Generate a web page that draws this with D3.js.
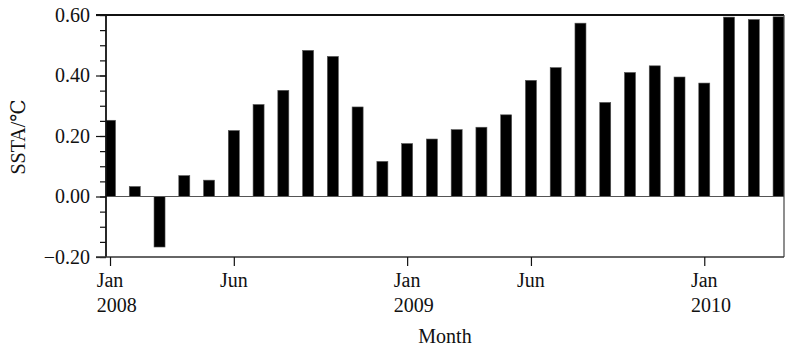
<!DOCTYPE html>
<html>
<head>
<meta charset="utf-8">
<script src="https://cdn.jsdelivr.net/npm/d3@7"></script>
<style>
  body { margin: 0; background: #fff; }
  svg { display: block; font-family: "Liberation Serif", "DejaVu Serif", serif; }
</style>
</head>
<body>
<svg id="chart"></svg>
<script>
// monthly SSTA values, Jan 2008 - Apr 2010
const months = d3.range(28);
const ssta = [
  0.252, 0.033, -0.167, 0.069, 0.054, 0.218, 0.304, 0.351, 0.483, 0.463, 0.296, 0.116,
  0.175, 0.190, 0.221, 0.229, 0.270, 0.384, 0.426, 0.573, 0.311, 0.410, 0.432, 0.395,
  0.375, 0.593, 0.585, 0.594
];
const xTickIndex = [0, 5, 12, 17, 24];
const xTickMonth = ["Jan", "Jun", "Jan", "Jun", "Jan"];
const xTickYear = ["2008", "", "2009", "", "2010"];
const yTicks = [-0.2, 0, 0.2, 0.4, 0.6];

const svgWidth = 798;
const svgHeight = 351;
const margin = { top: 15, right: 14, bottom: 94, left: 106 };
const width = svgWidth - margin.left - margin.right;
const height = svgHeight - margin.top - margin.bottom;

const svg = d3.select("#chart")
  .attr("width", svgWidth)
  .attr("height", svgHeight);

const g = svg.append("g")
  .attr("transform", "translate(" + margin.left + "," + margin.top + ")");

const x = d3.scaleLinear()
  .domain([-0.162, 27.22])
  .range([0, width]);

const y = d3.scaleLinear()
  .domain([-0.2, 0.6])
  .range([height, 0]);

const barWidth = 11;

g.append("clipPath")
  .attr("id", "plot-clip")
  .append("rect")
  .attr("width", width)
  .attr("height", height);

// bars
g.append("g")
  .attr("clip-path", "url(#plot-clip)")
  .selectAll("rect")
  .data(months)
  .enter()
  .append("rect")
  .attr("x", (i) => x(i) - barWidth / 2)
  .attr("width", barWidth)
  .attr("y", (i) => y(Math.max(0, ssta[i])))
  .attr("height", (i) => Math.abs(y(ssta[i]) - y(0)))
  .attr("fill", "#000")
  .attr("stroke", "#555")
  .attr("stroke-width", 0.6);

// zero line
g.append("line")
  .attr("x1", 0)
  .attr("x2", width)
  .attr("y1", y(0))
  .attr("y2", y(0))
  .attr("stroke", "#555")
  .attr("stroke-width", 1.2);

// frame
g.append("line")
  .attr("x1", -10).attr("x2", width)
  .attr("y1", 0).attr("y2", 0)
  .attr("stroke", "#111").attr("stroke-width", 2);
g.append("line")
  .attr("x1", width).attr("x2", width)
  .attr("y1", 0).attr("y2", height)
  .attr("stroke", "#444").attr("stroke-width", 1.2);

// y axis: majors every 0.2, minors every 0.05
const yMinor = d3.axisLeft(y)
  .tickValues(d3.range(-0.2, 0.6001, 0.05))
  .tickSize(6)
  .tickFormat("");
g.append("g").call(yMinor)
  .call((a) => a.select(".domain").remove())
  .selectAll("line").attr("stroke", "#111").attr("stroke-width", 1.2);

const yAxis = d3.axisLeft(y)
  .tickValues(yTicks)
  .tickSize(10)
  .tickPadding(6)
  .tickFormat((d) => (d < 0 ? "\u2212" : "") + Math.abs(d).toFixed(2));
const ya = g.append("g").call(yAxis);
ya.select(".domain").attr("stroke", "#111").attr("stroke-width", 1.8).attr("d", "M0,0V" + height);
ya.selectAll("line").attr("stroke", "#111").attr("stroke-width", 1.2);
ya.selectAll("text")
  .attr("font-family", "Liberation Serif")
  .attr("font-size", 20)
  .attr("fill", "#111");

// x axis
const xAxis = d3.axisBottom(x)
  .tickValues(xTickIndex)
  .tickSize(9)
  .tickFormat("");
const xa = g.append("g")
  .attr("transform", "translate(0," + height + ")")
  .call(xAxis);
xa.select(".domain").attr("stroke", "#333").attr("stroke-width", 1.4).attr("d", "M-10,0H" + width);
xa.selectAll("line").attr("stroke", "#111").attr("stroke-width", 1.2);

const labels = g.append("g")
  .attr("font-size", 20)
  .attr("fill", "#111");
xTickIndex.forEach((m, k) => {
  const t = labels.append("text")
    .attr("x", x(m))
    .attr("y", height + 30)
    .attr("text-anchor", "middle")
    .text(xTickMonth[k]);
  if (xTickYear[k]) {
    const w = t.node().getComputedTextLength();
    labels.append("text")
      .attr("x", x(m) - w / 2)
      .attr("y", height + 55)
      .attr("text-anchor", "start")
      .text(xTickYear[k]);
  }
});

svg.append("text")
  .attr("x", margin.left + width / 2)
  .attr("y", 343)
  .attr("text-anchor", "middle")
  .attr("font-size", 20)
  .attr("fill", "#111")
  .text("Month");

svg.append("text")
  .attr("transform", "rotate(-90)")
  .attr("x", -137)
  .attr("y", 25)
  .attr("text-anchor", "middle")
  .attr("font-size", 20)
  .attr("fill", "#111")
  .text("SSTA/\u2103");
</script>
</body>
</html>
